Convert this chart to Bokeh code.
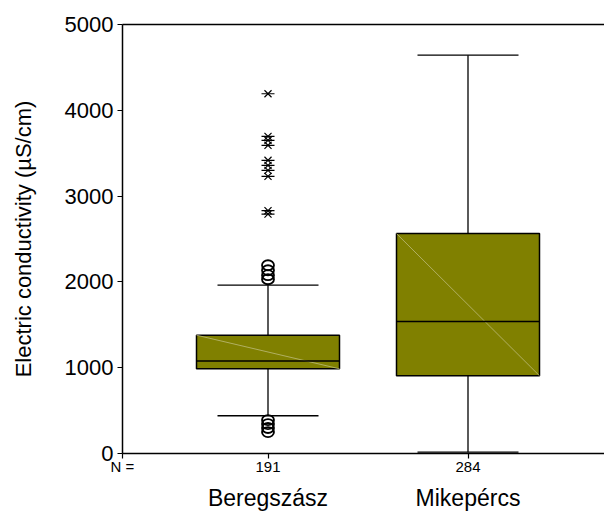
from bokeh.plotting import figure
from bokeh.models import (LinearAxis, FixedTicker, Range1d, ColumnDataSource)
from bokeh.embed import file_html
from bokeh.resources import INLINE

categories = ["Beregszász", "Mikepércs"]
n_counts = [191, 284]
positions = [1, 2]
q1 = [987, 906]
medians = [1077, 1539]
q3 = [1379, 2563]
whisker_low = [440, 15]
whisker_high = [1962, 4643]
# Beregszász outliers
circle_outliers = [2194, 2136, 2078, 2031, 390, 343, 297, 250]
star_outliers = [4193, 3696, 3650, 3592, 3417, 3358, 3300, 3230, 2830, 2790]
y_ticks = [0, 1000, 2000, 3000, 4000, 5000]

FONT = "Liberation Sans"
BOX_HALF = 0.3575
CAP_HALF = 0.2525
X_START = 0.2725
X_END = 2.6825

p = figure(width=604, height=513, output_backend="svg", toolbar_location=None,
           x_range=Range1d(X_START, X_END), y_range=Range1d(0, 5000),
           min_border_left=122, min_border_right=0, min_border_top=24,
           min_border_bottom=59, x_axis_location=None, y_axis_location=None)
p.grid.visible = False
p.outline_line_color = None
p.background_fill_color = "white"
p.border_fill_color = "white"

# Y axis
yax = LinearAxis(ticker=FixedTicker(ticks=y_ticks),
                 axis_label="Electric conductivity (µS/cm)")
yax.axis_line_width = 1.5
yax.major_tick_out = 5
yax.major_tick_in = 0
yax.major_tick_line_width = 1.2
yax.minor_tick_line_color = None
yax.major_label_text_font = FONT
yax.major_label_text_font_size = "22px"
yax.major_label_text_color = "black"
yax.major_label_standoff = 4
yax.axis_label_text_font = FONT
yax.axis_label_text_font_size = "22px"
yax.axis_label_text_color = "black"
yax.axis_label_text_font_style = "normal"
yax.axis_label_standoff = 26
p.add_layout(yax, "left")

# top line
top = LinearAxis(ticker=FixedTicker(ticks=[]))
top.axis_line_width = 1.5
top.major_tick_out = 0
top.major_tick_in = 0
top.minor_tick_line_color = None
top.major_label_text_font_size = "0px"
p.add_layout(top, "above")

# X axis with N counts
n_labels = {X_START: "N ="}
n_labels.update({pos: str(n) for pos, n in zip(positions, n_counts)})
xax = LinearAxis(ticker=FixedTicker(ticks=[X_START] + positions),
                 major_label_overrides=n_labels)
xax.axis_line_width = 1.5
xax.major_tick_out = 5
xax.major_tick_in = 0
xax.major_tick_line_width = 1.2
xax.minor_tick_line_color = None
xax.major_label_text_font = FONT
xax.major_label_text_font_size = "15px"
xax.major_label_text_color = "black"
xax.major_label_standoff = -1
p.add_layout(xax, "below")

# category names axis
cax = LinearAxis(ticker=FixedTicker(ticks=positions),
                 major_label_overrides={pos: c for pos, c in zip(positions, categories)})
cax.axis_line_color = None
cax.major_tick_line_color = None
cax.minor_tick_line_color = None
cax.major_label_text_font = FONT
cax.major_label_text_font_size = "23px"
cax.major_label_text_color = "black"
cax.major_label_standoff = 1
p.add_layout(cax, "below")

src = ColumnDataSource(dict(
    x=positions,
    left=[x - BOX_HALF for x in positions],
    right=[x + BOX_HALF for x in positions],
    cl=[x - CAP_HALF for x in positions],
    cr=[x + CAP_HALF for x in positions],
    q1=q1, q3=q3, med=medians, lo=whisker_low, hi=whisker_high))

# whiskers
p.segment(x0="x", y0="q3", x1="x", y1="hi", source=src, line_color="black", line_width=1.3)
p.segment(x0="x", y0="q1", x1="x", y1="lo", source=src, line_color="black", line_width=1.3)
p.segment(x0="cl", y0="hi", x1="cr", y1="hi", source=src, line_color="black", line_width=1.3)
p.segment(x0="cl", y0="lo", x1="cr", y1="lo", source=src, line_color="black", line_width=1.3)

# boxes
p.quad(left="left", right="right", bottom="q1", top="q3", source=src,
       fill_color="#808000", line_color="black", line_width=1.5)
p.segment(x0="left", y0="q3", x1="right", y1="q1", source=src,
          line_color="#bdbb7a", line_width=0.8)
p.segment(x0="left", y0="med", x1="right", y1="med", source=src,
          line_color="black", line_width=1.5)

# outliers (Beregszász)
p.ellipse(x=[positions[0]] * len(circle_outliers), y=circle_outliers,
          width=12, height=10, width_units="screen", height_units="screen",
          fill_color=None, line_color="black", line_width=1.8)
p.scatter(x=[positions[0]] * len(star_outliers), y=star_outliers, marker="x",
          size=10, line_color="black", line_width=1.2)
p.scatter(x=[positions[0]] * len(star_outliers), y=star_outliers, marker="dash",
          size=13, line_color="black", line_width=1.2)

open("out.html", "w").write(file_html(p, INLINE))
